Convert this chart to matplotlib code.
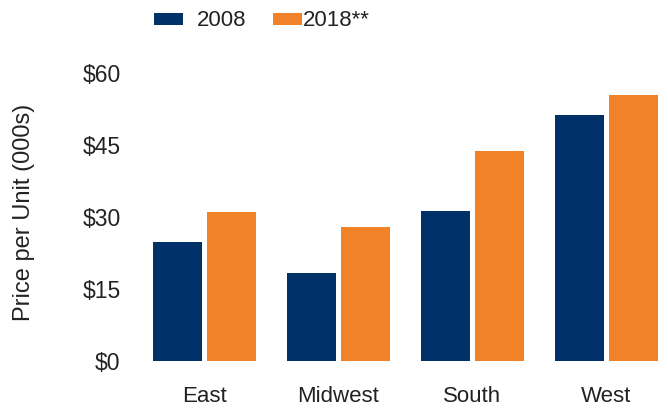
import matplotlib
matplotlib.use("Agg")
import matplotlib.pyplot as plt
from matplotlib import font_manager
import numpy as np

regions = ["East", "Midwest", "South", "West"]
series_names = ["2008", "2018**"]
values_2008 = [24.8, 18.3, 31.2, 51.2]
values_2018 = [31.0, 27.9, 43.7, 55.4]
yticks = [0, 15, 30, 45, 60]
ytick_labels = ["$0", "$15", "$30", "$45", "$60"]

navy = "#003168"
orange = "#F28227"

plt.rcParams['font.family'] = ['Liberation Sans', 'DejaVu Sans']

legend_family = 'Liberation Sans'
try:
    font_manager.findfont(font_manager.FontProperties(family='Liberation Sans Narrow'),
                          fallback_to_default=False)
    legend_family = 'Liberation Sans Narrow'
except Exception:
    pass

W, H = 668, 413
fig = plt.figure(figsize=(W / 100, H / 100), dpi=100)
ax_left, ax_right, ax_bottom, ax_top = 140, 664, 361, 73
ax = fig.add_axes([ax_left / W, (H - ax_bottom) / H,
                   (ax_right - ax_left) / W, (ax_bottom - ax_top) / H])

x = np.arange(len(regions))
width = 0.366
offset = 0.2015
b1 = ax.bar(x - offset, values_2008, width, color=navy, label=series_names[0])
b2 = ax.bar(x + offset, values_2018, width, color=orange, label=series_names[1])

spacing = 134.0
ax.set_xlim(-(204.5 - ax_left) / spacing, (ax_right - 204.5) / spacing)
ax.set_ylim(0, 60)
ax.set_yticks(yticks)
ax.set_yticklabels(ytick_labels)
ax.set_xticks(x)
ax.set_xticklabels(regions)
ax.tick_params(axis='both', length=0, labelsize=16.5, colors='#222222')
ax.tick_params(axis='y', pad=14)
ax.tick_params(axis='x', pad=18, labelsize=16)
for s in ax.spines.values():
    s.set_visible(False)

fig.text(24 / W, (H - 212) / H, "Price per Unit (000s)", rotation=90,
         ha='center', va='center', fontsize=17, color='#222222')

legend_kw = dict(loc='center left', frameon=False, borderpad=0, borderaxespad=0,
                 handlelength=1.3, handleheight=0.45,
                 prop={'family': legend_family, 'size': 16})
leg1 = fig.legend(handles=[b1], labels=[series_names[0]],
                  bbox_to_anchor=(154 / W, 1 - 21 / H), handletextpad=0.62, **legend_kw)
leg2 = fig.legend(handles=[b2], labels=[series_names[1]],
                  bbox_to_anchor=(273 / W, 1 - 21 / H), handletextpad=0.05, **legend_kw)
for leg in (leg1, leg2):
    for t in leg.get_texts():
        t.set_color('#222222')

fig.savefig("out.png", dpi=100)
